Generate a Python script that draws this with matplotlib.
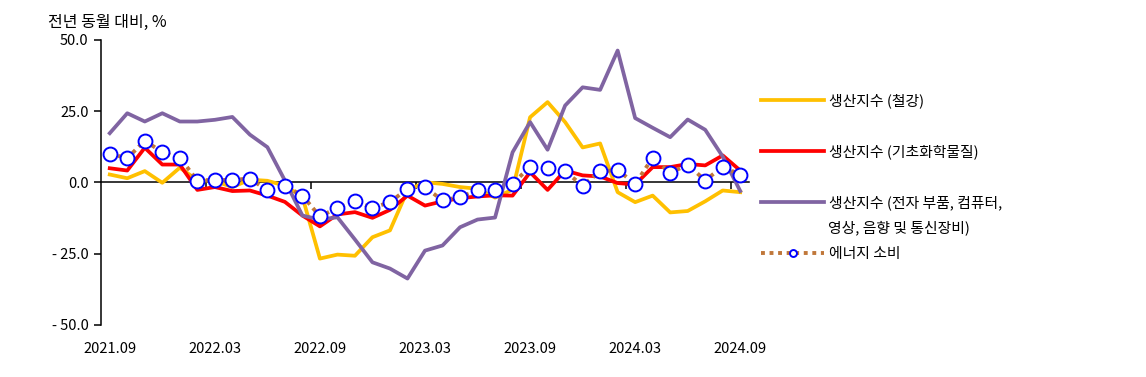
import matplotlib
matplotlib.use("Agg")
import matplotlib.pyplot as plt
from matplotlib.lines import Line2D

plt.rcParams['font.family'] = ['Noto Sans CJK KR', 'DejaVu Sans']

months = [f"{y}.{m:02d}" for y, m in
          [(2021, 9), (2021, 10), (2021, 11), (2021, 12)] +
          [(2022, m) for m in range(1, 13)] +
          [(2023, m) for m in range(1, 13)] +
          [(2024, m) for m in range(1, 10)]]

steel = [2.8, 1.5, 4.0, -0.1, 5.2, 0.8, 0.5, -1.6, 1.0, 0.6, -1.1, -5.0,
         -26.7, -25.3, -25.7, -19.2, -16.8, -2.8, 0.1, -0.5, -1.6, -2.2,
         -5.3, -2.5, 22.9, 28.2, 21.2, 12.3, 13.7, -3.4, -6.9, -4.6, -10.5,
         -10.0, -6.6, -2.8, -3.4]
chem = [5.0, 4.2, 12.2, 6.3, 6.3, -2.6, -1.6, -3.0, -2.8, -4.6, -6.8, -11.6,
        -15.4, -11.2, -10.4, -12.4, -9.6, -4.6, -8.1, -6.6, -5.5, -4.9, -4.5,
        -4.6, 3.6, -2.6, 4.2, 2.5, 2.1, -0.2, -0.7, 5.4, 5.4, 6.5, 6.0, 9.5, 4.2]
elec = [17.3, 24.3, 21.4, 24.3, 21.4, 21.4, 22.0, 23.0, 16.8, 12.4, 0.7,
        -11.6, -13.0, -12.2, -20.0, -28.0, -30.2, -33.7, -23.9, -22.1, -15.7,
        -13.0, -12.3, 10.6, 21.2, 11.5, 27.0, 33.4, 32.5, 46.3, 22.6, 19.2,
        15.9, 22.1, 18.5, 9.1, -3.0]
energy = [10.1, 8.5, 14.7, 10.6, 8.7, 0.7, 0.9, 0.9, 1.4, -2.8, -1.1, -4.6,
          -11.9, -8.9, -6.6, -8.9, -6.9, -2.2, -1.6, -6.3, -5.1, -2.8, -2.8,
          -0.5, 5.6, 5.1, 3.9, -1.1, 3.9, 4.4, -0.5, 8.7, 3.3, 6.3, 0.7, 5.6, 2.7]

series_labels = ["생산지수 (철강)", "생산지수 (기초화학물질)",
                 "생산지수 (전자 부품, 컴퓨터,", "에너지 소비"]
extra_line = "영상, 음향 및 통신장비)"
y_ticks = [50, 25, 0, -25, -50]
y_ticklabels = ["50.0", "25.0", "0.0", "- 25.0", "- 50.0"]
title = "전년 동월 대비, %"

c_steel = "#FFC000"
c_chem = "#FF0000"
c_elec = "#8064A2"
c_energy = "#C0773A"

fig = plt.figure(figsize=(11.46, 3.77), dpi=100)
ax = fig.add_axes([101 / 1146, 52 / 377, 648 / 1146, 285 / 377])

x = list(range(len(months)))
lw = 2.7
ax.plot(x, steel, color=c_steel, lw=lw, zorder=3)
ax.plot(x, chem, color=c_chem, lw=lw, zorder=4)
ax.plot(x, elec, color=c_elec, lw=lw, zorder=5)
ax.plot(x, energy, color=c_energy, lw=2.8, linestyle=(0, (1, 1.2)), zorder=6)
ax.plot(x, energy, linestyle='none', marker='o', ms=10, mfc='white',
        mec='#0000FF', mew=1.4, zorder=7)

ax.set_xlim(-0.5, len(months) - 0.5)
ax.set_ylim(-50, 50)

for s in ['top', 'right']:
    ax.spines[s].set_visible(False)
ax.spines['left'].set_linewidth(1.1)
ax.spines['bottom'].set_position(('data', 0))
ax.spines['bottom'].set_linewidth(1.1)

ax.set_yticks(y_ticks)
ax.set_yticklabels(y_ticklabels)
ax.tick_params(axis='y', direction='out', length=5, width=1.1, labelsize=10.5, pad=4)

lab_idx = list(range(0, len(months), 6))
ax.set_xticks([i - 0.5 for i in lab_idx[1:]])
ax.tick_params(axis='x', direction='out', length=5, width=1.1, labelbottom=False)

ax2 = ax.secondary_xaxis('bottom')
ax2.set_xticks(lab_idx)
ax2.set_xticklabels([months[i] for i in lab_idx])
ax2.spines['bottom'].set_visible(False)
ax2.tick_params(axis='x', length=0, labelsize=10.5, pad=12)

fig.text(48 / 1146, 1 - 22 / 377, title, fontsize=11.5, ha='left', va='center')

handles = [
    Line2D([], [], color=c_steel, lw=lw),
    Line2D([], [], color=c_chem, lw=lw),
    Line2D([], [], color=c_elec, lw=lw),
    Line2D([], [], color=c_energy, lw=2.8, linestyle=(0, (1, 1.2)),
           marker='o', ms=5, mfc='white', mec='#0000FF', mew=1.4, markevery=[1]),
]
ys = [101, 152, 203, 254]
for h, lbl, yy in zip(handles, series_labels, ys):
    fig.legend(handles=[h], labels=[lbl], loc='center left',
               bbox_to_anchor=(757 / 1146, 1 - yy / 377), frameon=False,
               fontsize=10.7, handlelength=4.2, handletextpad=0.35,
               borderaxespad=0, borderpad=0.3)
fig.text(828 / 1146, 1 - 228 / 377, extra_line, fontsize=10.7, ha='left', va='center')

fig.savefig("out.png", dpi=100)
